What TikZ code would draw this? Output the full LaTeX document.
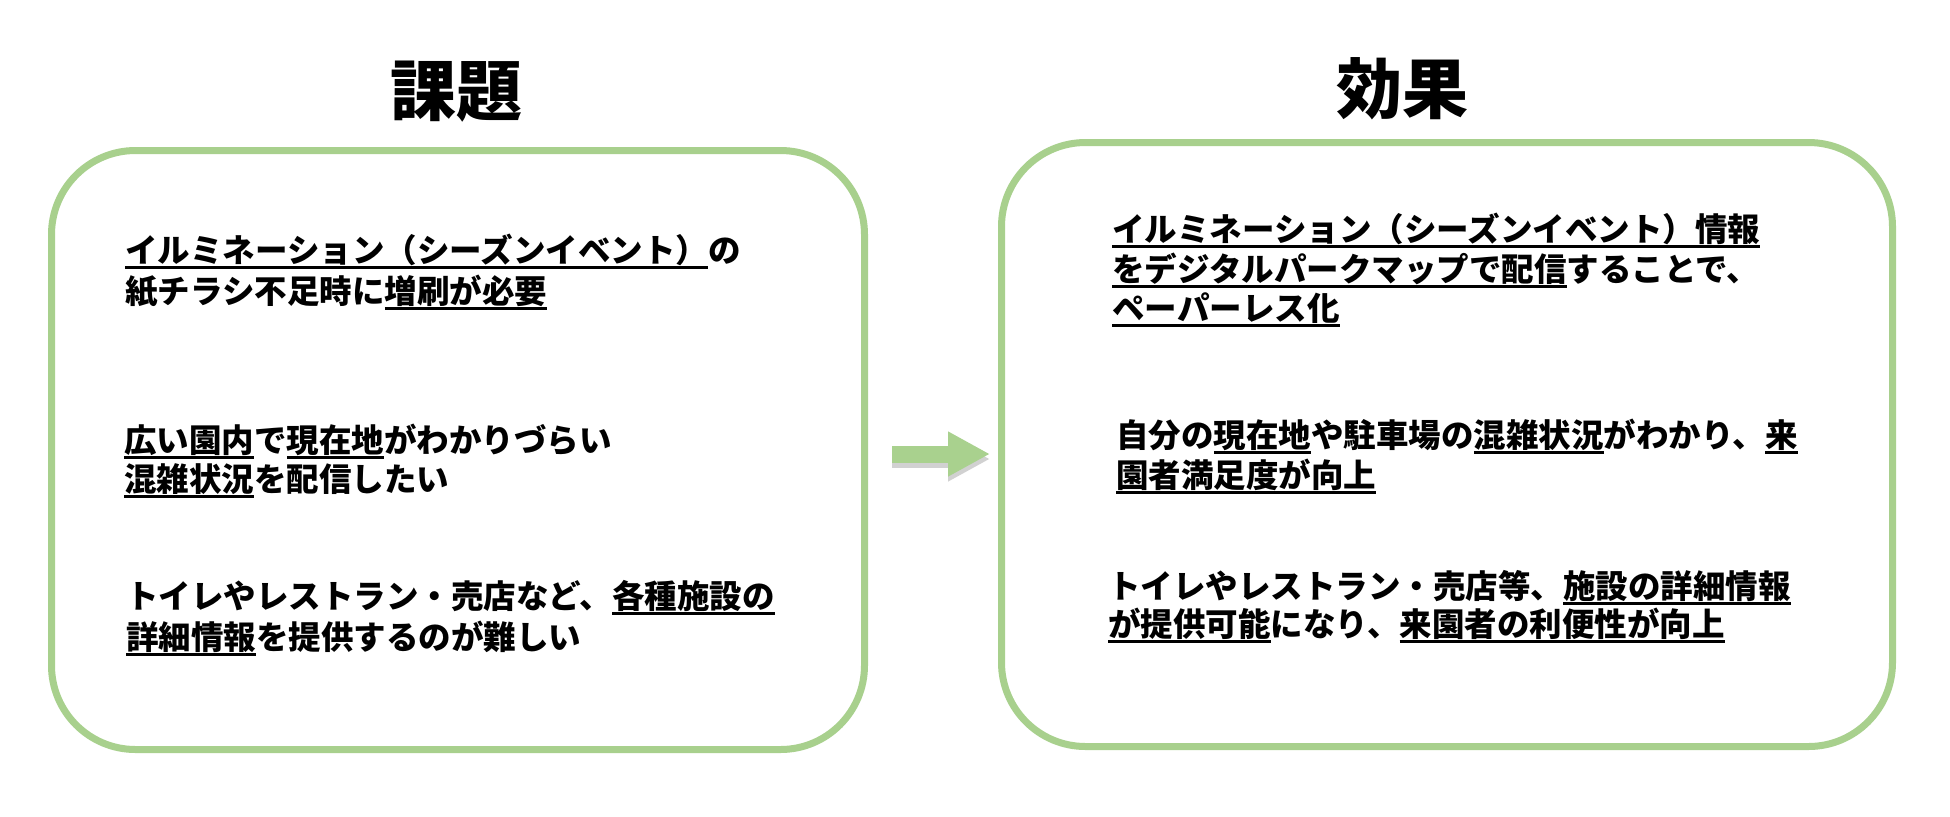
\documentclass[tikz,border=0pt]{standalone}
\usepackage{fontspec}
\newfontfamily\jp{Noto Sans CJK JP}
\usetikzlibrary{arrows.meta,backgrounds}
\definecolor{boxgreen}{HTML}{A8D08D}
\definecolor{arrowgreen}{HTML}{A9D18E}
\newcommand{\ulj}[1]{\setbox0=\hbox{#1}\rlap{\rule[-0.2em]{\wd0}{0.075em}}\box0}
\begin{document}
\begin{tikzpicture}[x=0.5pt, y=-0.5pt,
  box/.style={draw=boxgreen, line width=3.5pt, rounded corners=42pt, outer sep=0pt, inner sep=0pt},
  boxshadow/.style={draw=black, opacity=0.22, line width=4pt, rounded corners=42pt},
  txt/.style={anchor=base west, inner sep=0pt, font=\jp\bfseries\fontsize{16.25pt}{20pt}\selectfont},
  ttl/.style={anchor=base, inner sep=0pt, font=\jp\bfseries\fontsize{33pt}{40pt}\selectfont},
  bigarrow/.style={arrowgreen, line width=8.5pt, -{Triangle[length=21pt, width=21pt]}},
  arrowshadow/.style={black, opacity=0.18, line width=8.5pt, -{Triangle[length=21pt, width=21pt]}}]
\fill[white] (0,0) rectangle (1950,816);
\useasboundingbox (0,0) rectangle (1950,816);

% boxes
\node[box, minimum width=406.5pt, minimum height=299.5pt] (L) at (458,450) {};
\node[box, minimum width=445.5pt, minimum height=302pt] (R) at (1447,444.5) {};
\begin{scope}[on background layer]
  \draw[boxshadow] ([yshift=-3pt]L.south west) rectangle ([yshift=-3pt]L.north east);
  \draw[boxshadow] ([yshift=-3pt]R.south west) rectangle ([yshift=-3pt]R.north east);
\end{scope}

% titles
\node[ttl] (t1) at (456,115) {課題};
\node[ttl] (t2) at (1402,113) {効果};

% arrow
\coordinate (a1) at (892,454);
\coordinate (a2) at (990,454);
\coordinate (s1) at (892,459);
\coordinate (s2) at (990,459);
\draw[arrowshadow] (s1) -- (s2);
\draw[bigarrow] (a1) -- (a2);

% left texts
\node[txt] (l1a) at (125,262) {\ulj{イルミネーション（シーズンイベント）}の};
\node[txt] (l1b) at (125,303) {紙チラシ不足時に\ulj{増刷が必要}};
\node[txt] (l2a) at (124,452) {\ulj{広い園内}で\ulj{現在地}がわかりづらい};
\node[txt] (l2b) at (124,491) {\ulj{混雑状況}を配信したい};
\node[txt] (l3a) at (126,608) {トイレやレストラン・売店など、\ulj{各種施設の}};
\node[txt] (l3b) at (126,649) {\ulj{詳細情報}を提供するのが難しい};

% right texts
\node[txt] (r1a) at (1112,241) {\ulj{イルミネーション（シーズンイベント）情報}};
\node[txt] (r1b) at (1112,281) {\ulj{をデジタルパークマップで配信}することで、};
\node[txt] (r1c) at (1112,320) {\ulj{ペーパーレス化}};
\node[txt] (r2a) at (1116,447) {自分の\ulj{現在地}や駐車場の\ulj{混雑状況}がわかり、\ulj{来}};
\node[txt] (r2b) at (1116,487) {\ulj{園者満足度が向上}};
\node[txt] (r3a) at (1108,598) {トイレやレストラン・売店等、\ulj{施設の詳細情報}};
\node[txt] (r3b) at (1108,636) {\ulj{が提供可能}になり、\ulj{来園者の利便性が向上}};
\end{tikzpicture}
\end{document}
